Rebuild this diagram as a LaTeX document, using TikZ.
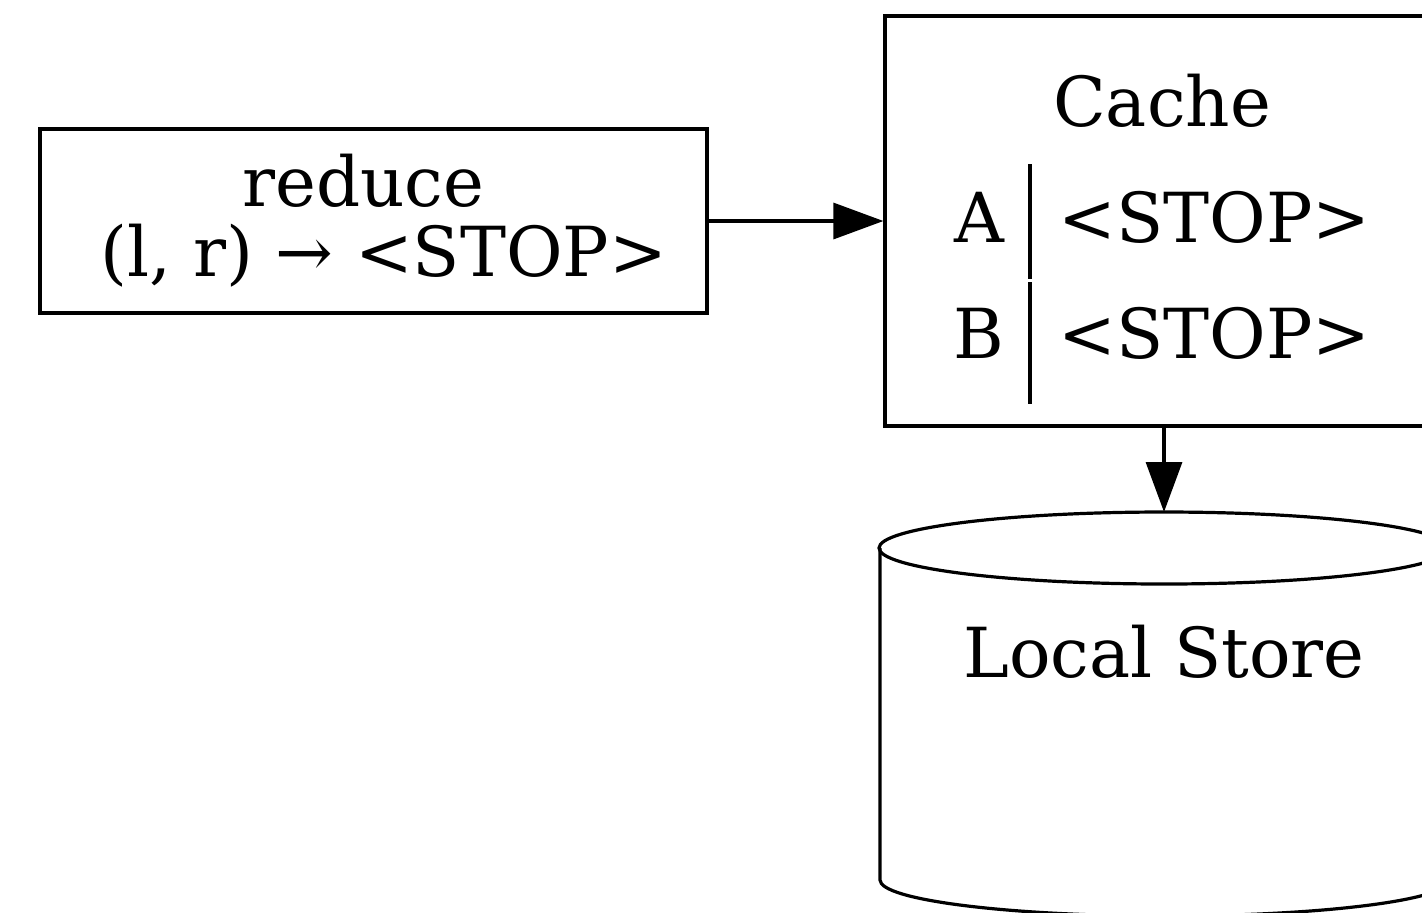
\documentclass[tikz,border=0pt]{standalone}
\usepackage{fontspec}
\setmainfont{DejaVu Serif}
\usetikzlibrary{arrows.meta,positioning}

\begin{document}
\begin{tikzpicture}[
  x=0.5pt, y=-0.5pt,
  font=\fontsize{34.5}{35}\selectfont,
  line width=1.6pt,
  box/.style={draw, rectangle, inner sep=0pt, align=center},
  txt/.style={inner sep=0pt},
  arr/.style={-{Triangle[length=25pt, width=18pt]}},
]
\useasboundingbox (0,0) rectangle (1422,912);

% reduce step
\node[box, minimum width=333.5pt, minimum height=92pt] (reduce) at (373.5,221)
  {reduce\hspace*{0.3em}\\\hspace*{0.3em}(l, r) → <STOP>};

% Cache table
\node[box, minimum width=279pt, minimum height=205pt] (cache) at (1164,221) {};
\node[txt, anchor=base] (cachetitle) at (1162,126) {Cache};
\node[txt, anchor=base east] (keya) at (1006,242) {A};
\node[txt, anchor=base west] (vala) at (1057,242) {<STOP>};
\node[txt, anchor=base east] (keyb) at (1006,358) {B};
\node[txt, anchor=base west] (valb) at (1057,358) {<STOP>};
\draw (1030,164) -- (1030,279);
\draw (1030,282) -- (1030,404);

% Local store cylinder
\coordinate (storetop) at (1164,512);
\draw (1164,548) ellipse [x radius=285, y radius=36];
\draw (880,548) -- (880,880) arc [start angle=180, end angle=0, x radius=285, y radius=36] -- (1450,548);
\node[txt, anchor=base] (store) at (1164,677) {Local Store};

% Arrows
\draw[arr] (reduce.east) -- (cache.west);
\draw[arr] (cache.south) -- (storetop);

\end{tikzpicture}
\end{document}
